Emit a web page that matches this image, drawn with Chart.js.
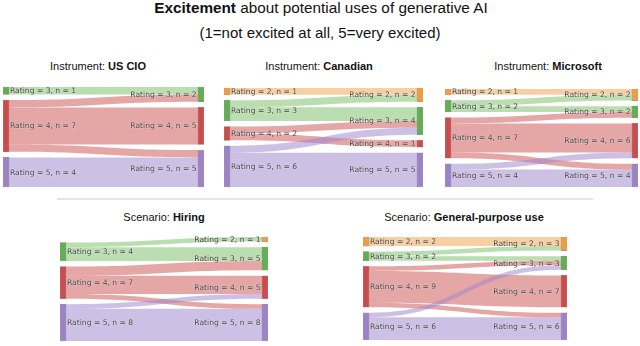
<!DOCTYPE html>
<html>
<head>
<meta charset="utf-8">
<script src="https://cdn.jsdelivr.net/npm/chart.js@4.4.1/dist/chart.umd.min.js"></script>
<style>
  html, body { margin: 0; padding: 0; background: #fff; }
  #wrap { position: relative; width: 640px; height: 346px; overflow: hidden; font-family: "Liberation Sans", Arial, sans-serif; color: #111; }
  .txt { position: absolute; white-space: nowrap; transform: translateX(-50%); line-height: normal; }
  canvas { position: absolute; }
  #sep { position: absolute; left: 57px; top: 198px; width: 536px; height: 2px; background: #e4e4e4; }
</style>
</head>
<body>
<div id="wrap">
  <div class="txt" style="left:321px; top:-1px; font-size:15.3px;"><b>Excitement</b> about potential uses of generative AI</div>
  <div class="txt" style="left:320px; top:23.5px; font-size:15px;">(1=not excited at all, 5=very excited)</div>
  <div id="sep"></div>
</div>
<script>
// ---- data ----
const panelGroups = ["Instrument", "Instrument", "Instrument", "Scenario", "Scenario"];
const panelNames  = ["US CIO", "Canadian", "Microsoft", "Hiring", "General-purpose use"];

// US CIO flows: rating before -> rating after, n
const cioFrom = [3, 4, 4, 4, 5];
const cioTo   = [3, 3, 4, 5, 5];
const cioN    = [1, 1, 5, 1, 4];

// Canadian
const canFrom = [2, 3, 3, 4, 4, 5, 5];
const canTo   = [2, 2, 3, 3, 4, 3, 5];
const canN    = [1, 1, 2, 1, 1, 1, 5];

// Microsoft
const msFrom = [2, 3, 3, 4, 4, 4, 5, 5];
const msTo   = [2, 2, 3, 3, 4, 5, 4, 5];
const msN    = [1, 1, 1, 1, 5, 1, 1, 3];

// Hiring
const hirFrom = [3, 3, 4, 4, 4, 5, 5];
const hirTo   = [2, 3, 3, 4, 5, 4, 5];
const hirN    = [1, 3, 2, 4, 1, 1, 7];

// General-purpose use
const genFrom = [2, 3, 3, 4, 4, 4, 5, 5];
const genTo   = [2, 2, 3, 3, 4, 5, 3, 5];
const genN    = [2, 1, 1, 1, 7, 1, 1, 5];

const panelFlows = [
  [cioFrom, cioTo, cioN],
  [canFrom, canTo, canN],
  [msFrom, msTo, msN],
  [hirFrom, hirTo, hirN],
  [genFrom, genTo, genN]
];

// ---- styles / layout ----
const nodeColor = { 2: "#EE9C45", 3: "#63AD52", 4: "#C94D4D", 5: "#9C82C6" };
const linkColor = { 2: "rgba(240,160,70,0.5)", 3: "rgba(110,185,90,0.48)", 4: "rgba(200,70,70,0.48)", 5: "rgba(160,135,205,0.52)" };
// plot boxes: left, top, width, height ; title center x, title top
const boxes = [
  { l: 3,   t: 87,  w: 201, h: 100, tx: 98,  ty: 60 },
  { l: 224, t: 88,  w: 199, h: 99,  tx: 319, ty: 60 },
  { l: 445, t: 89,  w: 193, h: 98,  tx: 548, ty: 60 },
  { l: 60,  t: 237, w: 208, h: 104, tx: 164, ty: 211 },
  { l: 363, t: 237, w: 204, h: 103, tx: 464, ty: 211 }
];
const GAP_PX = 5.6;
const NODE_W = 6;
const VPAD = 6;

function buildLayout(from, to, n, heightPx) {
  const total = n.reduce((a, b) => a + b, 0);
  const cols = [from, to].map(arr => {
    const m = {};
    arr.forEach((r, i) => { m[r] = (m[r] || 0) + n[i]; });
    return Object.keys(m).map(Number).sort((a, b) => a - b).map(r => ({ r, v: m[r] }));
  });
  const maxNodes = Math.max(cols[0].length, cols[1].length);
  const unitPx = (heightPx - (maxNodes - 1) * GAP_PX) / total;
  const gapU = GAP_PX / unitPx;
  const span = total + (maxNodes - 1) * gapU;
  const nodes = [];
  cols.forEach((col, side) => {
    const colSpan = total + (col.length - 1) * gapU;
    let y = span - colSpan;
    col.forEach(nd => {
      nodes.push({ side, r: nd.r, v: nd.v, y0: y, y1: y + nd.v });
      y += nd.v + gapU;
    });
  });
  const links = from.map((f, i) => ({ f, t: to[i], v: n[i], i }));
  const srcOff = {}, tgtOff = {};
  nodes.forEach(nd => { (nd.side === 0 ? srcOff : tgtOff)[nd.r] = nd.y0; });
  [...links].sort((a, b) => a.f - b.f || a.t - b.t).forEach(lk => {
    lk.s0 = srcOff[lk.f]; lk.s1 = lk.s0 + lk.v; srcOff[lk.f] = lk.s1;
  });
  [...links].sort((a, b) => a.t - b.t || a.f - b.f).forEach(lk => {
    lk.t0 = tgtOff[lk.t]; lk.t1 = lk.t0 + lk.v; tgtOff[lk.t] = lk.t1;
  });
  return { nodes, links, span };
}

const linkPlugin = {
  id: "sankeyLinks",
  beforeDatasetsDraw(chart) {
    const lay = chart.options.plugins.sankeyLinks.layout;
    const xs = chart.scales.x, ys = chart.scales.y, ctx = chart.ctx;
    const x0 = xs.getPixelForValue(0) + NODE_W / 2;
    const x1 = xs.getPixelForValue(1) - NODE_W / 2;
    const xm = (x0 + x1) / 2;
    ctx.save();
    lay.links.forEach(lk => {
      const a0 = ys.getPixelForValue(lk.s0), a1 = ys.getPixelForValue(lk.s1);
      const b0 = ys.getPixelForValue(lk.t0), b1 = ys.getPixelForValue(lk.t1);
      ctx.beginPath();
      ctx.moveTo(x0, a0);
      ctx.bezierCurveTo(xm, a0, xm, b0, x1, b0);
      ctx.lineTo(x1, b1);
      ctx.bezierCurveTo(xm, b1, xm, a1, x0, a1);
      ctx.closePath();
      ctx.fillStyle = linkColor[lk.f];
      ctx.fill();
    });
    ctx.restore();
  }
};

const labelPlugin = {
  id: "sankeyLabels",
  afterDatasetsDraw(chart) {
    const lay = chart.options.plugins.sankeyLinks.layout;
    const xs = chart.scales.x, ys = chart.scales.y, ctx = chart.ctx;
    ctx.save();
    ctx.font = '7.6px "DejaVu Sans"';
    ctx.textBaseline = "middle";
    lay.nodes.forEach(nd => {
      const yc = ys.getPixelForValue((nd.y0 + nd.y1) / 2);
      const txt = "Rating = " + nd.r + ", n = " + nd.v;
      let x;
      if (nd.side === 0) { ctx.textAlign = "left"; x = xs.getPixelForValue(0) + NODE_W / 2 + 1; }
      else { ctx.textAlign = "right"; x = xs.getPixelForValue(1) - NODE_W / 2 - 1.5; }
      ctx.shadowColor = "rgba(255,255,255,0.9)";
      ctx.shadowBlur = 1.5;
      ctx.fillStyle = "#444";
      ctx.fillText(txt, x, yc + 0.5);
    });
    ctx.restore();
  }
};

const wrap = document.getElementById("wrap");
panelFlows.forEach((pf, k) => {
  const b = boxes[k];
  const title = document.createElement("div");
  title.className = "txt";
  title.style.left = b.tx + "px";
  title.style.top = b.ty + "px";
  title.style.fontSize = "11px";
  title.innerHTML = panelGroups[k] + ": <b>" + panelNames[k] + "</b>";
  wrap.appendChild(title);

  const cv = document.createElement("canvas");
  const ch = b.h + 2 * VPAD;
  cv.width = b.w; cv.height = ch;
  cv.style.left = b.l + "px"; cv.style.top = (b.t - VPAD) + "px";
  cv.style.width = b.w + "px"; cv.style.height = ch + "px";
  wrap.appendChild(cv);

  const lay = buildLayout(pf[0], pf[1], pf[2], b.h);
  new Chart(cv, {
    type: "bar",
    data: {
      datasets: [{
        data: lay.nodes.map(nd => ({ x: nd.side, y: [nd.y0, nd.y1] })),
        backgroundColor: lay.nodes.map(nd => nodeColor[nd.r]),
        borderColor: "rgba(68,68,68,0.55)",
        borderWidth: 0.5,
        borderSkipped: false,
        barThickness: NODE_W,
        clip: false
      }]
    },
    options: {
      responsive: false,
      animation: false,
      events: [],
      devicePixelRatio: 1,
      layout: { padding: { left: NODE_W / 2, right: NODE_W / 2, top: VPAD, bottom: VPAD } },
      scales: {
        x: { type: "linear", min: 0, max: 1, offset: false, display: false },
        y: { type: "linear", min: 0, max: lay.span, reverse: true, display: false }
      },
      plugins: {
        legend: { display: false },
        tooltip: { enabled: false },
        sankeyLinks: { layout: lay }
      }
    },
    plugins: [linkPlugin, labelPlugin]
  });
});
</script>
</body>
</html>
